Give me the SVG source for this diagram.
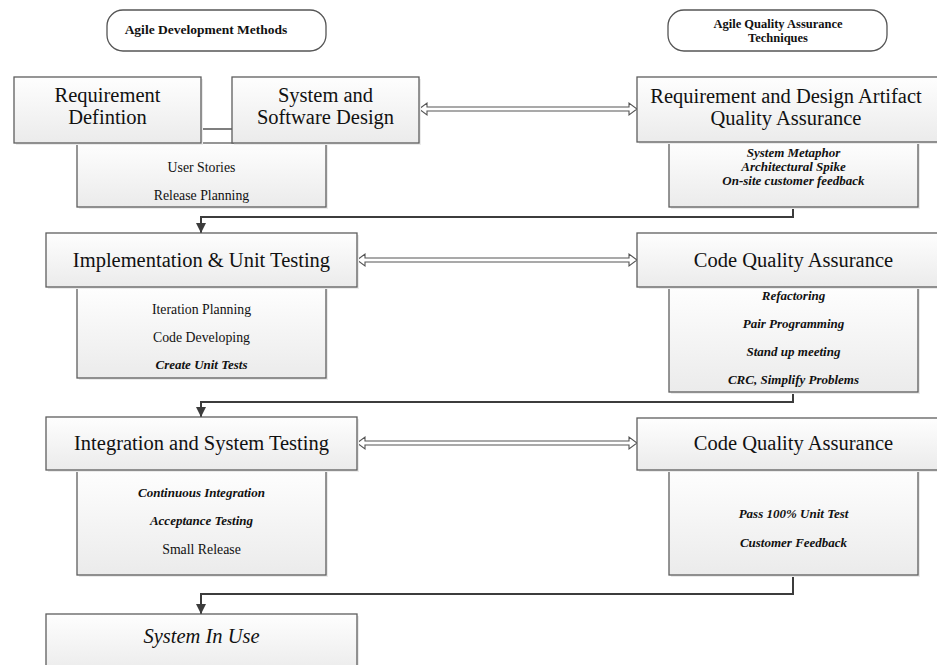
<svg xmlns="http://www.w3.org/2000/svg" width="937" height="665" viewBox="0 0 937 665">
<defs>
<linearGradient id="g" x1="0" y1="0" x2="0" y2="1">
<stop offset="0" stop-color="#fefefe"/>
<stop offset="1" stop-color="#ebebeb"/>
</linearGradient>
<marker id="ah" viewBox="0 0 10 10" refX="10" refY="5" markerWidth="10" markerHeight="11" markerUnits="userSpaceOnUse" orient="auto">
<path d="M0,0 L10,5 L0,10 Z" fill="#3c3c3c"/>
</marker>
</defs>
<style>
.box{fill:url(#g);stroke:#5e5e5e;stroke-width:1.3}
.sh{fill:#ebebeb}
.pill{fill:#fff;stroke:#555;stroke-width:1.3}
.h{font-family:"Liberation Serif","Times New Roman",serif;font-size:20.5px;fill:#111;text-anchor:middle}
.t{font-family:"Liberation Serif","Times New Roman",serif;font-size:13.8px;fill:#111;text-anchor:middle}
.bi{font-family:"Liberation Serif","Times New Roman",serif;font-size:13px;font-weight:bold;font-style:italic;fill:#111;text-anchor:middle}
.pt{font-family:"Liberation Serif","Times New Roman",serif;font-size:13.5px;font-weight:bold;fill:#111;text-anchor:middle}
.pt2{font-family:"Liberation Serif","Times New Roman",serif;font-size:12.5px;font-weight:bold;fill:#111;text-anchor:middle}
.c{fill:none;stroke:#3c3c3c;stroke-width:2}
.dbl{fill:#fff;stroke:#555;stroke-width:1.1}
</style>

<g id="pill-agile-dev">
<rect class="pill" x="107" y="10" width="219" height="41" rx="16"/>
<text class="pt" x="206" y="34">Agile Development Methods</text>
</g>
<g id="pill-agile-qa">
<rect class="pill" x="668" y="10" width="219" height="41" rx="16"/>
<text class="pt2" x="778" y="27.5">Agile Quality Assurance</text>
<text class="pt2" x="778" y="41.5">Techniques</text>
</g>

<g id="connectors">
<line x1="201" y1="129" x2="232" y2="129" stroke="#555" stroke-width="1.5"/>
<path class="dbl" d="M419,109 L427,103 L427,107 L629,107 L629,103 L637,109 L629,115 L629,111 L427,111 L427,115 Z"/>
<path class="dbl" d="M357,260 L365,254 L365,258 L629,258 L629,254 L637,260 L629,266 L629,262 L365,262 L365,266 Z"/>
<path class="dbl" d="M357,443 L365,437 L365,441 L629,441 L629,437 L637,443 L629,449 L629,445 L365,445 L365,449 Z"/>
<path class="c" d="M793,207 V217 H201 V233" marker-end="url(#ah)"/>
<path class="c" d="M793,392 V402 H201 V417" marker-end="url(#ah)"/>
<path class="c" d="M793,575 V594 H201 V614" marker-end="url(#ah)"/>
</g>

<g id="sub-user-stories">
<rect class="sh" x="79" y="145" width="249" height="64"/>
<rect class="box" x="77" y="143" width="249" height="64"/>
<text class="t" x="201.5" y="172">User Stories</text>
<text class="t" x="201.5" y="200">Release Planning</text>
</g>
<g id="req-def">
<rect class="sh" x="16" y="79" width="187" height="66"/>
<rect class="box" x="14" y="77" width="187" height="66"/>
<text class="h" x="107.5" y="102">Requirement</text>
<text class="h" x="107.5" y="124">Defintion</text>
</g>
<g id="sys-design">
<rect class="sh" x="234" y="79" width="187" height="66"/>
<rect class="box" x="232" y="77" width="187" height="66"/>
<text class="h" x="325.5" y="102">System and</text>
<text class="h" x="325.5" y="124">Software Design</text>
</g>

<g id="sub-req-qa">
<rect class="sh" x="671" y="144" width="249" height="65"/>
<rect class="box" x="669" y="142" width="249" height="65"/>
<text class="bi" x="793.5" y="157">System Metaphor</text>
<text class="bi" x="793.5" y="171">Architectural Spike</text>
<text class="bi" x="793.5" y="185">On-site customer feedback</text>
</g>
<g id="req-qa">
<rect class="sh" x="639" y="79" width="303" height="65"/>
<rect class="box" x="637" y="77" width="303" height="65"/>
<text class="h" x="786" y="103">Requirement and Design Artifact</text>
<text class="h" x="786" y="125">Quality Assurance</text>
</g>

<g id="sub-impl">
<rect class="sh" x="79" y="289" width="249" height="91"/>
<rect class="box" x="77" y="287" width="249" height="91"/>
<text class="t" x="201.5" y="314">Iteration Planning</text>
<text class="t" x="201.5" y="342">Code Developing</text>
<text class="bi" x="201.5" y="369">Create Unit Tests</text>
</g>
<g id="impl">
<rect class="sh" x="48" y="235" width="311" height="54"/>
<rect class="box" x="46" y="233" width="311" height="54"/>
<text class="h" x="201.5" y="267">Implementation &amp; Unit Testing</text>
</g>

<g id="sub-code-qa-1">
<rect class="sh" x="671" y="289" width="249" height="105"/>
<rect class="box" x="669" y="287" width="249" height="105"/>
<text class="bi" x="793.5" y="300">Refactoring</text>
<text class="bi" x="793.5" y="328">Pair Programming</text>
<text class="bi" x="793.5" y="356">Stand up meeting</text>
<text class="bi" x="793.5" y="384">CRC, Simplify Problems</text>
</g>
<g id="code-qa-1">
<rect class="sh" x="639" y="235" width="303" height="54"/>
<rect class="box" x="637" y="233" width="303" height="54"/>
<text class="h" x="793.5" y="267">Code Quality Assurance</text>
</g>

<g id="sub-integration">
<rect class="sh" x="79" y="472" width="249" height="105"/>
<rect class="box" x="77" y="470" width="249" height="105"/>
<text class="bi" x="201.5" y="497">Continuous Integration</text>
<text class="bi" x="201.5" y="525">Acceptance Testing</text>
<text class="t" x="201.5" y="554">Small Release</text>
</g>
<g id="integration">
<rect class="sh" x="48" y="419" width="311" height="53"/>
<rect class="box" x="46" y="417" width="311" height="53"/>
<text class="h" x="201.5" y="450">Integration and System Testing</text>
</g>

<g id="sub-code-qa-2">
<rect class="sh" x="671" y="472" width="249" height="105"/>
<rect class="box" x="669" y="470" width="249" height="105"/>
<text class="bi" x="793.5" y="518">Pass 100% Unit Test</text>
<text class="bi" x="793.5" y="547">Customer Feedback</text>
</g>
<g id="code-qa-2">
<rect class="sh" x="639" y="420" width="303" height="52"/>
<rect class="box" x="637" y="418" width="303" height="52"/>
<text class="h" x="793.5" y="450">Code Quality Assurance</text>
</g>

<g id="system-in-use">
<rect class="sh" x="48" y="616" width="311" height="60"/>
<rect class="box" x="46" y="614" width="311" height="60"/>
<text class="h" x="201.5" y="643" font-style="italic">System In Use</text>
</g>
</svg>
